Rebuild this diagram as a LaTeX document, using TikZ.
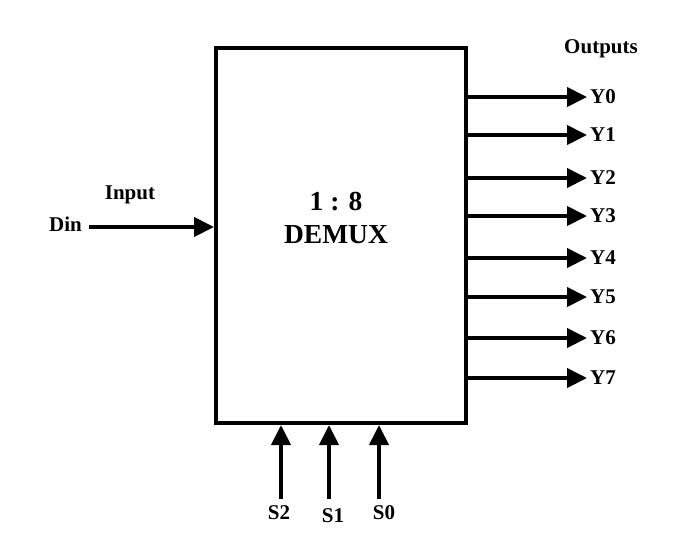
\documentclass[tikz,border=0pt]{standalone}
\usepackage{fontspec}
\setmainfont{Liberation Serif}
\usetikzlibrary{arrows.meta}
\begin{document}
\begin{tikzpicture}[x=1pt,y=-1pt,
  wire/.style={line width=4pt,-{Triangle[length=20pt,width=19pt]}},
  lbl/.style={font=\fontsize{21}{24}\selectfont\bfseries,inner sep=1pt},
  boxstyle/.style={draw,line width=4pt,minimum width=250pt,minimum height=375pt,inner sep=0pt}]
\useasboundingbox (0,0) rectangle (676,550);
\node[boxstyle] (demux) at (341,235.5) {};
\node[font=\fontsize{27.5}{33}\selectfont\bfseries,align=center] (title) at (336,218) {1 : 8\\DEMUX};
\node[lbl] (outs) at (601,49) {Outputs};
\foreach \i/\yy in {0/97,1/135,2/178,3/216,4/258,5/297,6/338,7/378}{
  \node[lbl,anchor=west,inner xsep=3pt] (Y\i) at (587,\yy) {Y\i};
  \draw[wire] (Y\i.west -| demux.east) -- (Y\i.west);
}
\node[lbl] (inp) at (130,195) {Input};
\node[lbl,anchor=east,inner xsep=4pt] (din) at (86,224) {Din};
\coordinate (dinend) at (89,227);
\draw[wire] (dinend) -- (dinend -| demux.west);
\node[lbl] (S2) at (279,513) {S2};
\node[lbl] (S1) at (333,516) {S1};
\node[lbl] (S0) at (384,513) {S0};
\coordinate (s2b) at (281,499);
\coordinate (s1b) at (329,499);
\coordinate (s0b) at (379,499);
\draw[wire] (s2b) -- (s2b |- demux.south);
\draw[wire] (s1b) -- (s1b |- demux.south);
\draw[wire] (s0b) -- (s0b |- demux.south);
\end{tikzpicture}
\end{document}
